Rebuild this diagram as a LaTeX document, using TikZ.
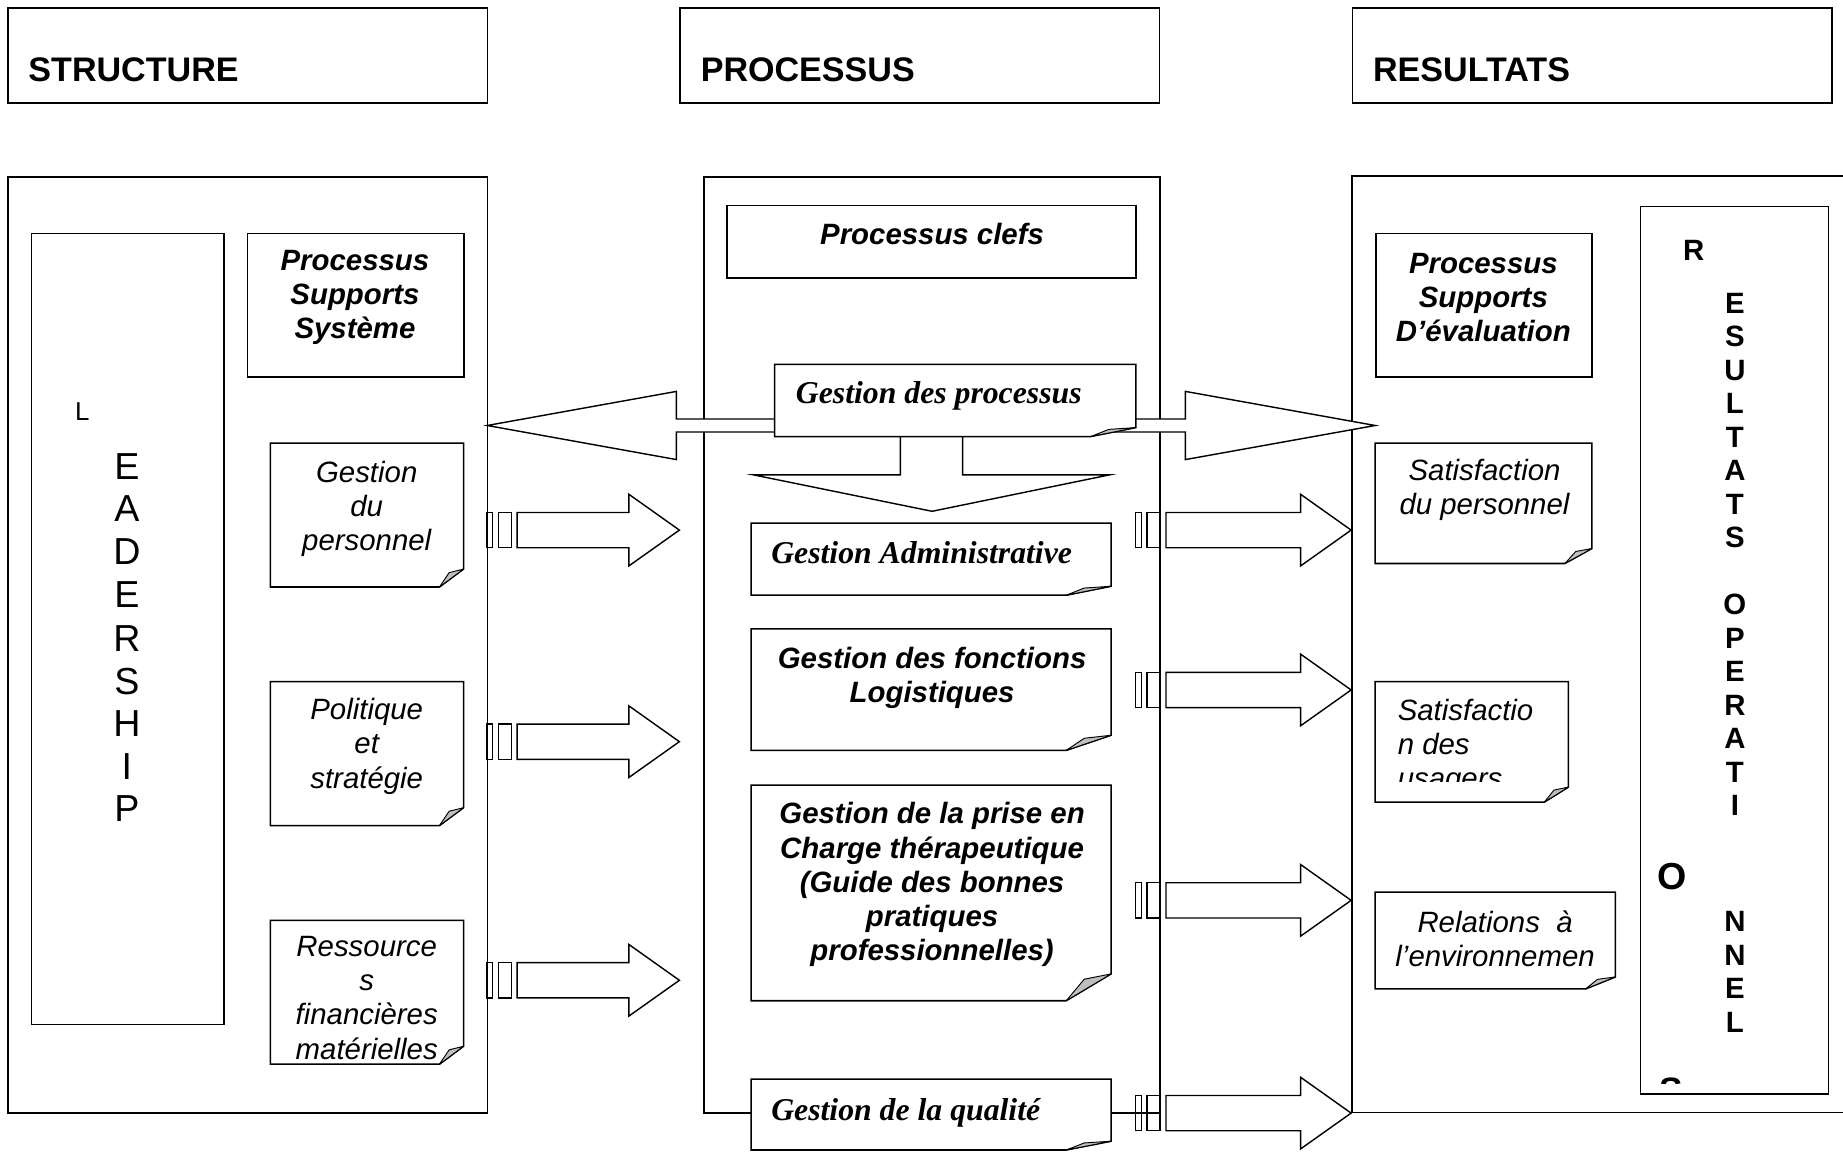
\documentclass[tikz,border=0pt]{standalone}
\usepackage{fontspec}
\setmainfont{Liberation Sans}
\newfontfamily\timesfont{Liberation Serif}
\usetikzlibrary{calc}

\tikzset{
  frame/.style={draw, line width=1.4pt, inner sep=0pt, anchor=north west},
  box/.style={draw, line width=1.3pt, fill=white, inner sep=0pt, anchor=north west},
  ghost/.style={inner sep=0pt, anchor=north west},
  outline/.style={draw, line width=1.3pt, fill=white, line join=miter},
  fold/.style={draw, line width=0.8pt, fill=black!25, line join=round},
  header/.style={anchor=base west, inner sep=0pt, font=\fontsize{29}{33}\selectfont\bfseries},
  txt/.style={align=center, inner sep=0pt, font=\fontsize{25}{29}\selectfont\itshape},
  txtbf/.style={align=center, inner sep=0pt, font=\fontsize{25}{29}\selectfont\bfseries\itshape},
  serif/.style={anchor=base west, inner sep=0pt, font=\fontsize{27}{30}\selectfont\timesfont\bfseries\itshape},
  blockarrow/.style={draw, line width=1.2pt, fill=white, line join=miter},
  stripe/.style={draw, line width=1.2pt},
  leadletter/.style={inner sep=0pt, font=\fontsize{32}{36}\selectfont},
  resletter/.style={inner sep=0pt, font=\fontsize{25}{29}\selectfont\bfseries},
}

% note with folded corner: name, x, y, width, height
\newcommand{\notebox}[5]{%
  \node[ghost, minimum width=#4, minimum height=#5] (#1) at (#2,#3) {};
  \draw[outline] (#1.north west) -- (#1.north east)
    -- ($(#1.south east)+(0,-0.125*#5)$) -- ($(#1.south east)+(-0.125*#4,0)$)
    -- (#1.south west) -- cycle;
  \draw[fold] ($(#1.south east)+(-0.125*#4,0)$) -- ($(#1.south east)+(-0.075*#4,-0.1*#5)$)
    -- ($(#1.south east)+(0,-0.125*#5)$) -- cycle;
}

% striped block arrow: start, tip
\newcommand{\stripedarrow}[2]{%
  \draw[stripe] let \p1=(#1) in
    (\x1,\y1-15) rectangle (\x1+5,\y1+15)
    (\x1+10,\y1-15) rectangle (\x1+21,\y1+15);
  \draw[blockarrow] let \p1=(#1), \p2=(#2) in
    (\x1+26,\y1-15) -- (\x2-43,\y1-15) -- (\x2-43,\y1-30.5) -- (#2)
    -- (\x2-43,\y1+30.5) -- (\x2-43,\y1+15) -- (\x1+26,\y1+15) -- cycle;
}

\begin{document}
\begin{tikzpicture}[x=1pt, y=-1pt]
  \useasboundingbox (0,0) rectangle (1568,980);

  % headers
  \node[box, minimum width=408, minimum height=81] (hstruct) at (6,6) {};
  \node[box, minimum width=408, minimum height=81] (hproc) at (578,6) {};
  \node[box, minimum width=408, minimum height=81] (hres) at (1150,6) {};
  \node[header] (tstruct) at (24,69) {STRUCTURE};
  \node[header] (tproc) at (596,69) {PROCESSUS};
  \node[header] (tres) at (1168,69) {RESULTATS};

  % the three frames
  \node[frame, minimum width=408, minimum height=796] (struct) at (6,150) {};
  \node[frame, minimum width=388, minimum height=796] (proc) at (598,150) {};
  \node[ghost, minimum width=418, minimum height=796] (res) at (1150,150) {};
  \draw[line width=1.4pt] (res.north east) -- (res.north west) -- (res.south west) -- (res.south east);

  % structure
  \node[box, minimum width=164, minimum height=673] (lead) at (26,198) {};
  \node[inner sep=0pt, font=\fontsize{22}{26}\selectfont] (leadL) at (70,350) {L};
  \foreach \l/\y [count=\i] in {E/397, A/433, D/469, E/506, R/543, S/580, H/616, I/652, P/688}
    \node[leadletter] (lead\i) at (108,\y) {\l};

  \node[box, minimum width=184, minimum height=122] (supsys) at (210,198) {};
  \node[txtbf] (supsyst) at (302,253) {Processus\\Supports\\Système};
  \notebox{pers}{230}{377}{164}{122}
  \node[txt] (perst) at (312,433) {Gestion\\du\\personnel};
  \notebox{polit}{230}{580}{164}{122}
  \node[txt] (politt) at (312,635) {Politique\\et\\stratégie};
  \notebox{ress}{230}{783}{164}{122}
  \node[txt] (resst) at (312,849) {Ressource\\s\\financières\\matérielles};

  % processus
  \node[box, minimum width=348, minimum height=62] (clefs) at (618,174) {};
  \node[txtbf] (clefst) at (793,199) {Processus clefs};

  \coordinate (dl) at (414.5,362);
  \coordinate (dr) at (1170,362);
  \draw[blockarrow] (dl) -- ++(161,-29) -- ++(0,23.5) -- ($(dr)+(-161.5,-5.5)$) -- ++(0,-23.5)
    -- (dr) -- ++(-161.5,29) -- ++(0,-23.5) -- ($(dl)+(161,5.5)$) -- ++(0,23.5) -- cycle;
  \draw[blockarrow] (766,371) -- (766,404) -- (641,404) -- (793,435) -- (944,404) -- (819,404) -- (819,371);

  \notebox{gproc}{659}{310}{307}{61}
  \node[serif] (gproct) at (677,343) {Gestion des processus};
  \notebox{gadm}{639}{445}{306}{61}
  \node[serif] (gadmt) at (656,479) {Gestion Administrative};
  \notebox{glog}{639}{535}{306}{103}
  \node[txtbf] (glogt) at (793,577) {Gestion des fonctions\\Logistiques};
  \notebox{gpec}{639}{668}{306}{183}
  \node[txtbf] (gpect) at (793,752.5) {Gestion de la prise en\\Charge thérapeutique\\(Guide des bonnes\\pratiques\\professionnelles)};
  \notebox{gqual}{639}{918}{306}{60}
  \node[serif] (gqualt) at (656,953) {Gestion de la qualité};

  % resultats
  \node[box, minimum width=184, minimum height=122] (supeval) at (1170,198) {};
  \node[txtbf] (supevalt) at (1262,253) {Processus\\Supports\\D’évaluation};
  \notebox{satp}{1170}{377}{184}{102}
  \node[txt] (satpt) at (1263,417) {Satisfaction\\du personnel};
  \notebox{satu}{1170}{580}{164}{102}
  \begin{scope}
    \clip (1170,580) rectangle (1334,665);
    \node[txt, align=left, anchor=north west] (satut) at (1189,594.5) {Satisfactio\\n des\\usagers};
  \end{scope}
  \notebox{relat}{1170}{759}{204}{82}
  \node[txt] (relatt) at (1272,799) {Relations\ \ à\\l’environnemen};

  \node[box, minimum width=160, minimum height=755] (resop) at (1395,175) {};
  \node[resletter] (resR) at (1441,213) {R};
  \foreach \l/\y [count=\i] in {E/258, S/286.5, U/315, L/343.5, T/372, A/400.5, T/429, S/457.5,
      O/514.5, P/543, E/571.5, R/600, A/628.5, T/657, I/685.5, N/784, N/812.5, E/841, L/870}
    \node[resletter] (res\i) at (1476,\y) {\l};
  \node[inner sep=0pt, font=\fontsize{32}{36}\selectfont\bfseries] (resO) at (1423,746) {O};
  \begin{scope}
    \clip (1400,900) rectangle (1450,921.5);
    \node[inner sep=0pt, font=\fontsize{30}{34}\selectfont\bfseries] (resS) at (1421.5,928) {S};
  \end{scope}

  % striped arrows
  \foreach \y [count=\i] in {451, 631, 834} {
    \coordinate (sl\i) at (414,\y);
    \coordinate (tl\i) at (578,\y);
    \stripedarrow{sl\i}{tl\i}
  }
  \foreach \y [count=\i] in {451, 587, 766, 947} {
    \coordinate (sr\i) at (966,\y);
    \coordinate (tr\i) at (1149.5,\y);
    \stripedarrow{sr\i}{tr\i}
  }
\end{tikzpicture}
\end{document}
